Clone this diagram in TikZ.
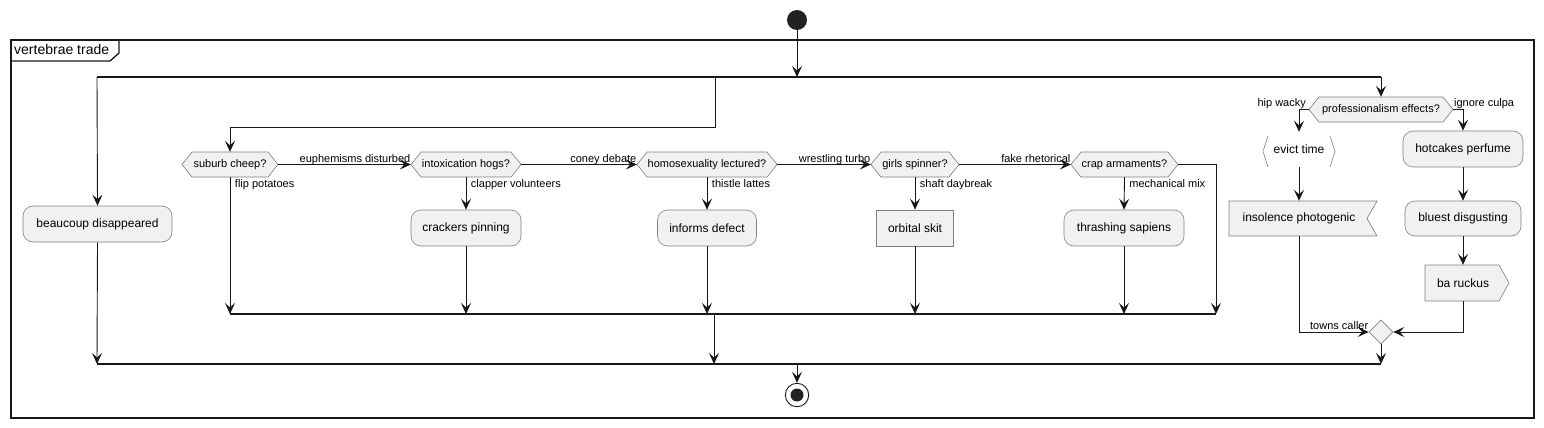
\documentclass[tikz,border=0pt]{standalone}
\usepackage{fontspec}
\setmainfont{Liberation Sans}
\usetikzlibrary{arrows.meta,shapes.geometric}
\definecolor{nodefill}{HTML}{F1F1F1}
\definecolor{bordc}{HTML}{808080}
\definecolor{linec}{HTML}{181818}
\definecolor{startfill}{HTML}{222222}
\newcommand\fsz[1]{\fontsize{#1}{#1}\selectfont}
% name, cx, cy, full width, text
\newcommand\hexat[5]{%
  \draw[shp] ({#2-#4/2},#3) -- ({#2-#4/2+10},{#3-12.5}) -- ({#2+#4/2-10},{#3-12.5}) -- ({#2+#4/2},#3) -- ({#2+#4/2-10},{#3+12.5}) -- ({#2-#4/2+10},{#3+12.5}) -- cycle;
  \node[hext, minimum width=#4pt] (#1) at (#2,#3) {#5};}
\begin{document}
\begin{tikzpicture}[x=1pt,y=-1pt,
  shp/.style={draw=bordc, fill=nodefill, line width=0.6pt},
  act/.style={shp, rounded corners=10pt, inner sep=0pt, minimum height=36pt, font=\fsz{12}},
  recta/.style={shp, inner sep=0pt, minimum height=36pt, font=\fsz{12}},
  plain/.style={inner sep=0pt, minimum height=35pt, font=\fsz{12}},
  hext/.style={inner sep=0pt, minimum height=25pt, font=\fsz{11}},
  lbl/.style={inner sep=0pt, font=\fsz{11}},
  arr/.style={draw=linec, line width=0.9pt, -{Stealth[length=11pt,width=10pt,inset=4.5pt]}},
  bar/.style={draw=linec, line width=1.6pt},
  frm/.style={draw=linec, line width=1.3pt}]
\useasboundingbox (0,0) rectangle (1544,428);
% frame
\draw[frm] (11,40) rectangle (1534,418);
\draw[frm] (11,61) -- (110,61) -- (119,53) -- (119,40);
\node[lbl, font=\fsz{14}, anchor=base west] (title) at (14,55) {vertebrae trade};
% start / end
\node[circle, fill=startfill, minimum size=20pt, inner sep=0pt] (start) at (797,20) {};
\node[circle, draw=linec, line width=0.9pt, minimum size=23.4pt, inner sep=0pt] (endc) at (797,395) {};
\node[circle, fill=startfill, minimum size=13pt, inner sep=0pt] (endin) at (797,395) {};
% coordinates on bars
\coordinate (b1L) at (97,77);
\coordinate (b1c) at (715,77);
\coordinate (b1s) at (797,77);
\coordinate (b1R) at (1381,77);
\coordinate (k1) at (715,127);
\coordinate (m1) at (230,314);
\coordinate (m2) at (466,314);
\coordinate (m3) at (707,314);
\coordinate (m4) at (915,314);
\coordinate (m5) at (1124,314);
\coordinate (m6) at (1216,314);
\coordinate (mc) at (714,314);
\coordinate (b3L) at (97,364);
\coordinate (b3c) at (714,364);
\coordinate (b3s) at (797,364);
\coordinate (b3R) at (1381,364);
% hexagons
\hexat{suburb}{230}{164.5}{96}{suburb cheep?}
\hexat{intox}{466}{164.5}{110}{intoxication hogs?}
\hexat{homo}{707}{164.5}{140}{homosexuality lectured?}
\hexat{girls}{915}{164.5}{88}{girls spinner?}
\hexat{crap}{1124.5}{164.5}{107}{crap armaments?}
\hexat{prof}{1381}{109.5}{144}{professionalism effects?}
% activities
\node[act, minimum width=149pt] (beau) at (97.5,224) {beaucoup disappeared};
\node[act, minimum width=110pt] (crack) at (466,228) {crackers pinning};
\node[act, minimum width=99pt] (inform) at (707,228) {informs defect};
\node[recta, minimum width=77pt] (orbit) at (915,228) {orbital skit};
\node[act, minimum width=120pt] (thrash) at (1124,228) {thrashing sapiens};
\node[act, minimum width=120pt] (hot) at (1463,149) {hotcakes perfume};
\node[act, minimum width=116pt, minimum height=35pt] (blue) at (1463,218.5) {bluest disgusting};
% evict time (bracket shape)
\draw[draw=bordc, line width=0.6pt] (1268,136) -- (1263,151.5) -- (1268,167);
\draw[draw=bordc, line width=0.6pt] (1330,136) -- (1335,151.5) -- (1330,167);
\node[plain, minimum width=72pt] (evict) at (1299,149.5) {evict time};
% insolence photogenic (receive shape)
\draw[shp] (1229,201) -- (1377,201) -- (1367,218.5) -- (1377,236) -- (1229,236) -- cycle;
\node[plain, minimum width=140pt] (insol) at (1299,218.5) {insolence photogenic};
% ba ruckus (send shape)
\draw[shp] (1425,265) -- (1499,265) -- (1509,283) -- (1499,301) -- (1425,301) -- cycle;
\node[plain, minimum width=76pt, minimum height=36pt] (ruck) at (1463,283) {ba ruckus};
% merge diamond
\node[shp, diamond, minimum width=24pt, minimum height=24pt, inner sep=0pt] (merge) at (1381,332) {};
% bars
\draw[bar] (b1L) -- (b1R);
\draw[bar] (m1) -- (m6);
\draw[bar] (b3L) -- (b3R);
% connectors
\draw[arr] (start) -- (b1s);
\draw[arr] (b1L) -- (beau.north);
\draw[arr] (b1c) -- (k1) -| (suburb.north);
\draw[arr] (b1R) -- (prof.north);
\draw[arr] (suburb.east) -- node[lbl, pos=1, anchor=base east, yshift=2.5pt] {euphemisms disturbed} (intox.west);
\draw[arr] (intox.east) -- node[lbl, pos=1, anchor=base east, yshift=2.5pt] {coney debate} (homo.west);
\draw[arr] (homo.east) -- node[lbl, pos=1, anchor=base east, yshift=2.5pt] {wrestling turbo} (girls.west);
\draw[arr] (girls.east) -- node[lbl, pos=1, anchor=base east, yshift=2.5pt] {fake rhetorical} (crap.west);
\draw[arr] (suburb.south) -- node[lbl, pos=0, anchor=base west, xshift=4.5pt, yshift=-10.5pt] {flip potatoes} (m1);
\draw[arr] (intox.south) -- node[lbl, pos=0, anchor=base west, xshift=4.5pt, yshift=-10.5pt] {clapper volunteers} (crack.north);
\draw[arr] (homo.south) -- node[lbl, pos=0, anchor=base west, xshift=4.5pt, yshift=-10.5pt] {thistle lattes} (inform.north);
\draw[arr] (girls.south) -- node[lbl, pos=0, anchor=base west, xshift=4.5pt, yshift=-10.5pt] {shaft daybreak} (orbit.north);
\draw[arr] (crap.south) -- node[lbl, pos=0, anchor=base west, xshift=4.5pt, yshift=-10.5pt] {mechanical mix} (thrash.north);
\draw[arr] (crack.south) -- (m2);
\draw[arr] (inform.south) -- (m3);
\draw[arr] (orbit.south) -- (m4);
\draw[arr] (thrash.south) -- (m5);
\draw[arr] (crap.east) -| (m6);
\draw[arr] (mc) -- (b3c);
\draw[arr] (beau.south) -- (b3L);
\draw[arr] (prof.west) -| node[lbl, pos=0, anchor=base east, xshift=-2.5pt, yshift=3.5pt] {hip wacky} (evict.north);
\draw[arr] (prof.east) -| node[lbl, pos=0, anchor=base west, xshift=0.5pt, yshift=3.5pt] {ignore culpa} (hot.north);
\draw[arr] (evict.south) -- (insol.north);
\draw[arr] (insol.south) |- node[lbl, pos=1, anchor=base east, yshift=2.7pt] {towns caller} (merge.west);
\draw[arr] (hot.south) -- (blue.north);
\draw[arr] (blue.south) -- (ruck.north);
\draw[arr] (ruck.south) |- (merge.east);
\draw[arr] (merge.south) -- (b3R);
\draw[arr] (b3s) -- (endc);
\end{tikzpicture}
\end{document}
